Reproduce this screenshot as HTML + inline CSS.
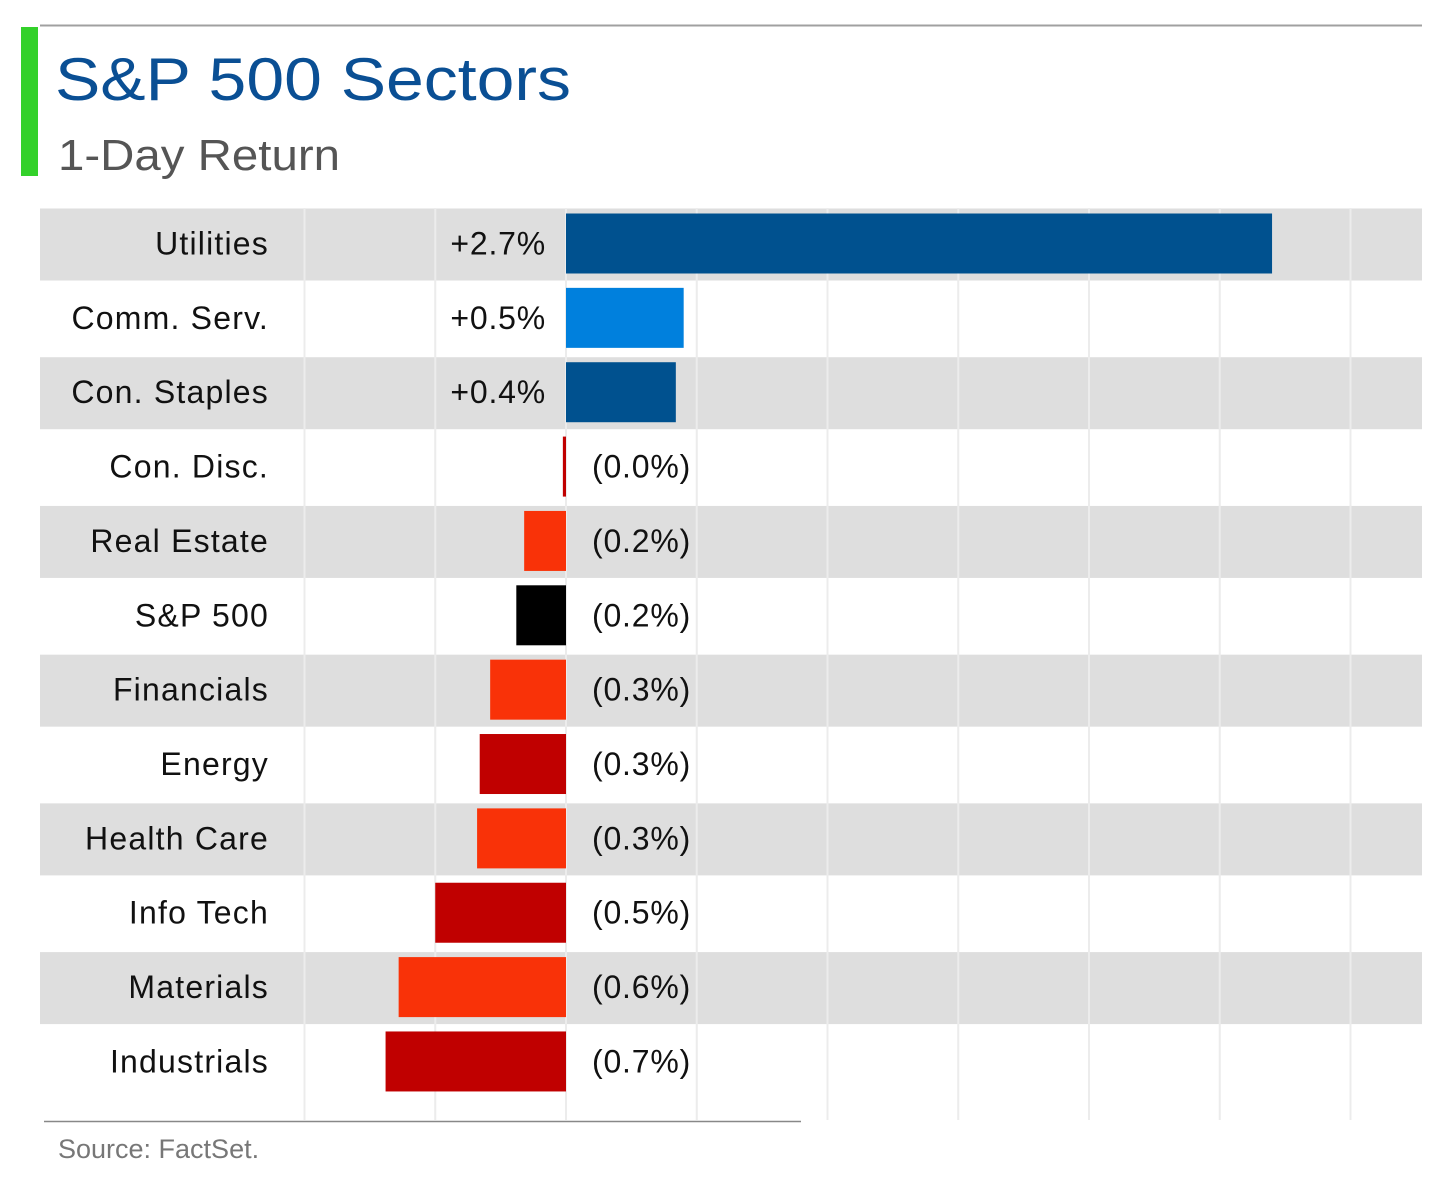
<!DOCTYPE html>
<html><head><meta charset="utf-8"><style>
body{margin:0;background:#fff;}
svg{display:block;font-family:"Liberation Sans",sans-serif;}
</style></head><body>
<svg id="chart" width="1456" height="1188" viewBox="0 0 1456 1188">
<line x1="40" y1="25.5" x2="1422" y2="25.5" stroke="#a0a0a0" stroke-width="2"/>
<rect x="21" y="27" width="17" height="149" fill="#33d12a"/>
<text x="55" y="100" font-size="60" fill="#0a4f94" textLength="516" lengthAdjust="spacingAndGlyphs">S&amp;P 500 Sectors</text>
<text x="58" y="170" font-size="44" fill="#555" textLength="282" lengthAdjust="spacingAndGlyphs">1-Day Return</text>
<g id="bands"></g><g id="grid"></g><g id="bars"></g><g id="labels"></g>
<line x1="44" y1="1121.5" x2="801" y2="1121.5" stroke="#888" stroke-width="1.5"/>
<text x="58" y="1158" font-size="27" fill="#777">Source: FactSet.</text>
</svg>
<script>
const categories=["Utilities","Comm. Serv.","Con. Staples","Con. Disc.","Real Estate","S&P 500","Financials","Energy","Health Care","Info Tech","Materials","Industrials"];
const values=[2.70,0.45,0.42,-0.012,-0.16,-0.19,-0.29,-0.33,-0.34,-0.50,-0.64,-0.69];
const valueLabels=["+2.7%","+0.5%","+0.4%","(0.0%)","(0.2%)","(0.2%)","(0.3%)","(0.3%)","(0.3%)","(0.5%)","(0.6%)","(0.7%)"];
const barColors=["#00518f","#0080dd","#00518f","#c00000","#f93208","#000000","#f93208","#c00000","#f93208","#c00000","#f93208","#c00000"];
const gridTicks=[-1,-0.5,0,0.5,1,1.5,2,2.5,3];
const NS="http://www.w3.org/2000/svg";
const x=v=>566+v*261.5;
const rowC=i=>243.5+i*74.36;
function mk(t,a,p){const e=document.createElementNS(NS,t);for(const k in a)e.setAttribute(k,a[k]);document.getElementById(p).appendChild(e);return e;}
categories.forEach((c,i)=>{
 if(i%2===0){const b=mk('rect',{x:40,y:rowC(i)-35,width:1382,height:72,fill:'#dedede'},'bands');
 
 }
});
gridTicks.forEach(t=>{const l=mk('line',{x1:x(t),y1:208,x2:x(t),y2:1120,stroke:'#ececec','stroke-width':2},'grid');
 
 });
categories.forEach((c,i)=>{
 const v=values[i],x0=Math.min(x(0),x(v)),w=Math.abs(x(v)-x(0));
 const r=mk('rect',{x:x0,y:rowC(i)-30,width:Math.max(w,2),height:60,fill:barColors[i]},'bars');
 
 
 const t=mk('text',{x:269,y:rowC(i)+11,'font-size':32,'letter-spacing':1.2,'text-anchor':'end',fill:'#111'},'labels');
 t.textContent=c;
 
 
 const vl=mk('text',{x:v>=0?x(0)-20:x(0)+26,y:rowC(i)+11,'font-size':32,'letter-spacing':0.8,'text-anchor':v>=0?'end':'start',fill:'#111'},'labels');
 vl.textContent=valueLabels[i];
 
 
});
</script>
</body></html>
